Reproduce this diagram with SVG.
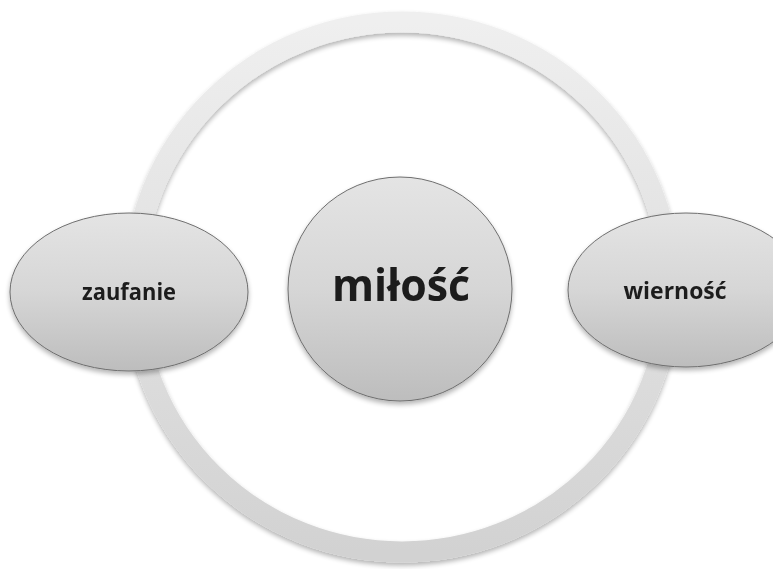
<svg xmlns="http://www.w3.org/2000/svg" width="773" height="569" viewBox="0 0 773 569">
  <defs>
    <linearGradient id="ringGrad" x1="0" y1="0" x2="0" y2="1">
      <stop offset="0" stop-color="#efefef"/>
      <stop offset="1" stop-color="#d2d2d2"/>
    </linearGradient>
    <linearGradient id="nodeGrad" x1="0" y1="0" x2="0" y2="1">
      <stop offset="0" stop-color="#e4e4e4"/>
      <stop offset="0.5" stop-color="#d6d6d6"/>
      <stop offset="1" stop-color="#bdbdbd"/>
    </linearGradient>
    <filter id="softShadow" x="-10%" y="-10%" width="120%" height="125%">
      <feGaussianBlur in="SourceAlpha" stdDeviation="2.5"/>
      <feOffset dx="0" dy="3" result="b"/>
      <feComponentTransfer><feFuncA type="linear" slope="0.3"/></feComponentTransfer>
      <feMerge><feMergeNode/><feMergeNode in="SourceGraphic"/></feMerge>
    </filter>
  </defs>
  <style>
    .node { fill: url(#nodeGrad); stroke: #6e6e6e; stroke-width: 1; }
    .label { font-family: "Open Sans", "Liberation Sans", sans-serif; font-weight: 700; fill: #1c1c1c; text-anchor: middle; }
  </style>
  <rect width="773" height="569" fill="#ffffff"/>

  <!-- connecting ring -->
  <g id="connectors" filter="url(#softShadow)">
    <ellipse cx="402" cy="287" rx="268" ry="265" fill="none" stroke="url(#ringGrad)" stroke-width="21"/>
  </g>

  <g id="node-zaufanie" filter="url(#softShadow)">
    <ellipse class="node" cx="129" cy="292" rx="119" ry="79"/>
    <text class="label" x="129" y="300" font-size="23" textLength="94" lengthAdjust="spacingAndGlyphs">zaufanie</text>
  </g>

  <g id="node-milosc" filter="url(#softShadow)">
    <circle class="node" cx="400" cy="289" r="112"/>
    <text class="label" x="401" y="301" font-size="44" textLength="138" lengthAdjust="spacingAndGlyphs">miłość</text>
  </g>

  <g id="node-wiernosc" filter="url(#softShadow)">
    <ellipse class="node" cx="686" cy="290" rx="118" ry="77"/>
    <text class="label" x="675" y="299" font-size="23" textLength="103" lengthAdjust="spacingAndGlyphs">wierność</text>
  </g>
</svg>
